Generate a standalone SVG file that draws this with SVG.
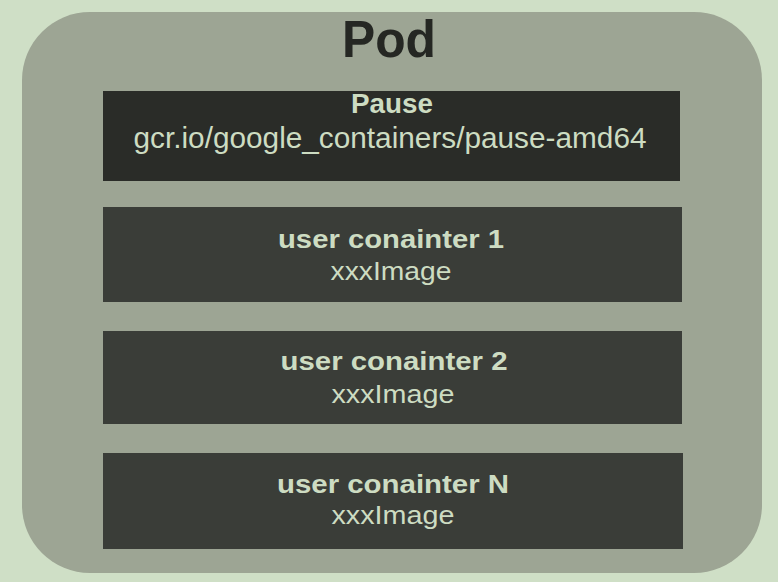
<svg xmlns="http://www.w3.org/2000/svg" width="778" height="582" viewBox="0 0 778 582">
  <style>
    .bg { fill: #cfdfc6; }
    .pod { fill: #9da594; }
    .pause { fill: #2a2c28; }
    .box { fill: #3a3d38; }
    .t { font-family: "Liberation Sans", Arial, sans-serif; text-anchor: middle; fill: #cddcc2; }
    .b { font-weight: bold; }
    .title { font-family: "Liberation Sans", Arial, sans-serif; font-weight: bold; text-anchor: middle; fill: #252723; }
  </style>
  <rect class="bg" x="0" y="0" width="778" height="582"/>
  <g id="pod">
    <rect class="pod" x="22" y="12" width="740" height="561" rx="68" ry="68"/>
    <text class="title" x="389" y="57" font-size="52" textLength="94" lengthAdjust="spacingAndGlyphs">Pod</text>
  </g>
  <g id="pause">
    <rect class="pause" x="103" y="91" width="577" height="90"/>
    <text class="t b" x="392" y="113" font-size="27" textLength="82" lengthAdjust="spacingAndGlyphs">Pause</text>
    <text class="t" x="390" y="148" font-size="30" textLength="513" lengthAdjust="spacingAndGlyphs">gcr.io/google_containers/pause-amd64</text>
  </g>
  <g id="container1">
    <rect class="box" x="103" y="207" width="579" height="95"/>
    <text class="t b" x="391" y="248" font-size="26" textLength="226" lengthAdjust="spacingAndGlyphs">user conainter 1</text>
    <text class="t" x="391" y="280" font-size="25" textLength="121" lengthAdjust="spacingAndGlyphs">xxxImage</text>
  </g>
  <g id="container2">
    <rect class="box" x="103" y="331" width="579" height="93"/>
    <text class="t b" x="394" y="370" font-size="26" textLength="227" lengthAdjust="spacingAndGlyphs">user conainter 2</text>
    <text class="t" x="393" y="403" font-size="25" textLength="123" lengthAdjust="spacingAndGlyphs">xxxImage</text>
  </g>
  <g id="containerN">
    <rect class="box" x="103" y="453" width="580" height="96"/>
    <text class="t b" x="393" y="493" font-size="26" textLength="232" lengthAdjust="spacingAndGlyphs">user conainter N</text>
    <text class="t" x="393" y="524" font-size="25" textLength="123" lengthAdjust="spacingAndGlyphs">xxxImage</text>
  </g>
  <g id="connectors"></g>
</svg>
